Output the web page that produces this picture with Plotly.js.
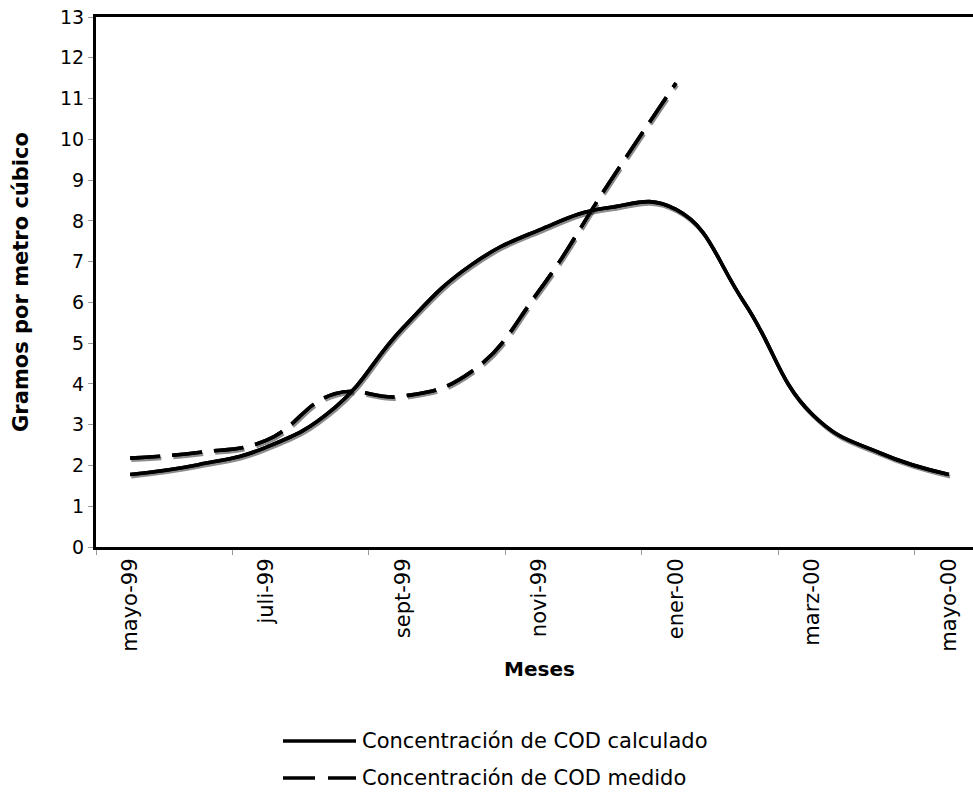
<!DOCTYPE html>
<html>
<head>
<meta charset="utf-8">
<script src="https://cdn.plot.ly/plotly-3.0.1.min.js"></script>
<style>
  html, body { margin: 0; padding: 0; overflow: hidden; background: #fff; }
  #chart { width: 990px; height: 794px; }
</style>
</head>
<body>
<div id="chart"></div>
<script>
// ---- data ----
const months = ['mayo-99','juni-99','juli-99','agos-99','sept-99','octu-99','novi-99',
                'dici-99','ener-00','febr-00','marz-00','abri-00','mayo-00'];
const tickMonths = ['mayo-99','juli-99','sept-99','novi-99','ener-00','marz-00','mayo-00'];
const codCalculado = [1.78, 2.02, 2.45, 3.42, 5.38, 6.92, 7.78, 8.32, 8.28, 6.0, 3.25, 2.3, 1.78];
const medidoMonths = months.slice(0, 9);
const codMedido = [2.18, 2.32, 2.62, 3.76, 3.70, 4.3, 6.3, 8.88, 11.38];
const nameCalc = 'Concentración de COD calculado';
const nameMed = 'Concentración de COD medido';

// ---- style ----
const FONT = 'DejaVu Sans, Verdana, sans-serif';
const W = 990, H = 794, ML = 96, MR = 7, MT = 17, MB = 247;
const pw = W - ML - MR, ph = H - MT - MB;
const catW = pw / months.length;
const dx = 1.2 / catW;          // shadow shift right (category units)
const dy = 2.2 / (ph / 13);     // shadow shift down (value units)
const DASH = '30px,12px';
const LW = 3.6;
const SM = 1.3;

const traces = [
  {x: months, y: codCalculado, name: nameCalc, type: 'scatter', mode: 'lines',
   line: {color: '#000', width: LW, shape: 'spline', smoothing: SM}, xaxis: 'x', yaxis: 'y'},
  {x: medidoMonths, y: codMedido, name: nameMed, type: 'scatter', mode: 'lines',
   line: {color: '#000', width: LW, shape: 'spline', smoothing: SM, dash: DASH}, xaxis: 'x', yaxis: 'y'},
  // shadows
  {x: months, y: codCalculado, hoverinfo: 'skip', mode: 'lines',
   line: {color: 'rgba(0,0,0,0.45)', width: LW, shape: 'spline', smoothing: SM}, xaxis: 'x2', yaxis: 'y2'},
  {x: medidoMonths, y: codMedido, hoverinfo: 'skip', mode: 'lines',
   line: {color: 'rgba(0,0,0,0.45)', width: LW, shape: 'spline', smoothing: SM, dash: DASH}, xaxis: 'x2', yaxis: 'y2'},
  // top copies
  {x: months, y: codCalculado, hoverinfo: 'skip', mode: 'lines',
   line: {color: '#000', width: LW, shape: 'spline', smoothing: SM}, xaxis: 'x3', yaxis: 'y3'},
  {x: medidoMonths, y: codMedido, hoverinfo: 'skip', mode: 'lines',
   line: {color: '#000', width: LW, shape: 'spline', smoothing: SM, dash: DASH}, xaxis: 'x3', yaxis: 'y3'}
];

const hiddenCat = (r) => ({type: 'category', categoryorder: 'array', categoryarray: months,
  range: r, visible: false, overlaying: 'x', fixedrange: true});
const hiddenY = (r) => ({range: r, visible: false, overlaying: 'y', fixedrange: true});

// custom legend (paper coordinates computed from pixel positions)
const px2x = (px) => (px - ML) / pw;
const py2y = (py) => (MT + ph - py) / ph;
const legRows = [
  {name: nameCalc, y: 741, dash: 'solid'},
  {name: nameMed, y: 778, dash: '32px,13px'}
];
const shapes = legRows.map(r => ({
  type: 'line', xref: 'paper', yref: 'paper',
  x0: px2x(283), x1: px2x(356), y0: py2y(r.y), y1: py2y(r.y),
  line: {color: '#000', width: LW, dash: r.dash}
}));
const annotations = legRows.map(r => ({
  xref: 'paper', yref: 'paper', x: px2x(360), y: py2y(r.y),
  xanchor: 'left', yanchor: 'middle', showarrow: false, text: r.name,
  font: {family: FONT, size: 21, color: '#000'}
}));

const layout = {
  width: W, height: H,
  margin: {l: ML, r: MR, t: MT, b: MB},
  paper_bgcolor: '#fff', plot_bgcolor: '#fff',
  font: {family: FONT, size: 19, color: '#000'},
  showlegend: false,
  shapes: shapes,
  annotations: annotations,
  xaxis: {
    type: 'category', categoryorder: 'array', categoryarray: months,
    range: [-0.5, months.length - 0.5],
    tickvals: tickMonths, ticktext: tickMonths,
    tickson: 'boundaries', ticks: 'outside', ticklen: 5, tickwidth: 1, tickcolor: '#999',
    tickangle: -90, tickfont: {family: FONT, size: 21, color: '#000'},
    showgrid: false, zeroline: false,
    showline: true, linecolor: '#000', linewidth: 3, mirror: true,
    title: {text: '<b>Meses</b>', font: {family: FONT, size: 20, color: '#000'}, standoff: 12},
    fixedrange: true
  },
  yaxis: {
    range: [0, 13], dtick: 1, tick0: 0,
    ticks: 'outside', ticklen: 5, tickwidth: 1, tickcolor: '#999',
    tickfont: {family: FONT, size: 19, color: '#000'},
    showgrid: false, zeroline: false,
    showline: true, linecolor: '#000', linewidth: 3, mirror: true,
    title: {text: '<b>Gramos por metro cúbico</b>', font: {family: FONT, size: 21, color: '#000'}, standoff: 26},
    fixedrange: true
  },
  xaxis2: hiddenCat([-0.5 - dx, months.length - 0.5 - dx]),
  yaxis2: Object.assign(hiddenY([dy, 13 + dy]), {anchor: 'x2'}),
  xaxis3: hiddenCat([-0.5, months.length - 0.5]),
  yaxis3: Object.assign(hiddenY([0, 13]), {anchor: 'x3'})
};
layout.xaxis2.anchor = 'y2';
layout.xaxis3.anchor = 'y3';

Plotly.newPlot('chart', traces, layout, {staticPlot: true, displayModeBar: false});
</script>
</body>
</html>
